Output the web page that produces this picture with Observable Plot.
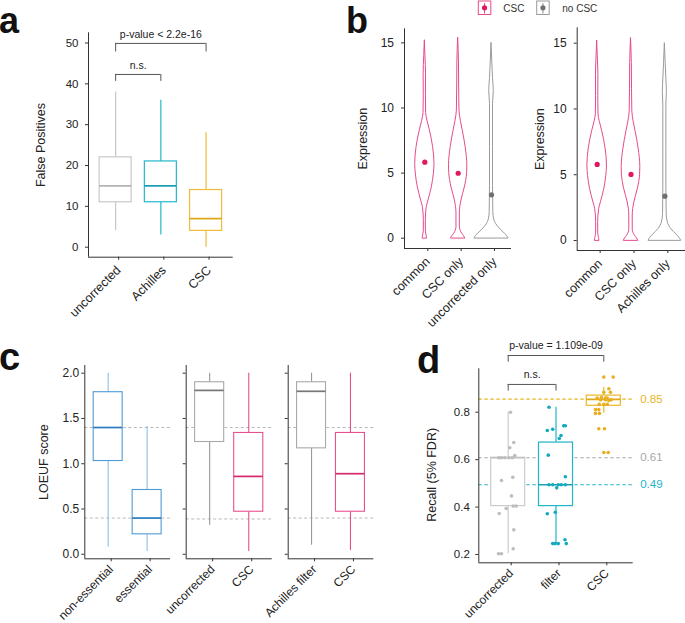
<!DOCTYPE html>
<html><head><meta charset="utf-8">
<script src="https://cdn.jsdelivr.net/npm/d3@7"></script>
<script src="https://cdn.jsdelivr.net/npm/@observablehq/plot@0.6"></script>
<style>
body{margin:0;background:#fff;}
#root{position:relative;width:685px;height:623px;overflow:hidden;background:#fff;font-family:"Liberation Sans",Arial,sans-serif;}
.letter{position:absolute;font-weight:bold;line-height:1;color:#111;font-family:"Liberation Sans",Arial,sans-serif;}
</style></head><body><div id="root"></div>
<script>
// ---------------- Panel a data ----------------
const aCats = ["uncorrected", "Achilles", "CSC"];
const aLow = [4, 3, 0];
const aQ1 = [11, 11, 4];
const aMed = [15, 15, 7];
const aQ3 = [22, 21, 14];
const aHigh = [38, 36, 28];
const aTicks = [0, 10, 20, 30, 40, 50];
const aBrFrom = [1, 1];
const aBrTo = [3, 2];
const aBrY = [49.9, 42.3];
const aBrFoot = [47.8, 40.6];
const aBrText = ["p-value < 2.2e-16", "n.s."];

// ---------------- Panel b data ----------------
const bLeftCats = ["common", "CSC only", "uncorrected only"];
const bRightCats = ["common", "CSC only", "Achilles only"];
const bTicks = [0, 5, 10, 15];
const vCommonY = [0, 0.2, 0.5, 0.9, 1.4, 2.4, 2.9, 3.9, 4.9, 5.7, 7.0, 8.3, 9.0, 9.6, 11.0, 12.6, 14.0, 15.2];
const vCommonW = [2.2, 1.8, 1.1, 1.0, 1.0, 2.0, 3.7, 7.0, 9.0, 9.7, 8.3, 5.0, 2.7, 1.3, 1.1, 1.2, 0.6, 0];
const vCscOnlyY = [0, 0.15, 0.35, 0.85, 1.9, 2.9, 3.9, 5.0, 5.6, 7.0, 8.3, 9.0, 9.8, 11.5, 13.5, 15.4];
const vCscOnlyW = [7.0, 6.0, 4.0, 1.7, 1.7, 3.3, 6.7, 9.0, 9.2, 7.5, 4.5, 2.7, 1.3, 1.0, 0.8, 0];
const vUncOnlyY = [0, 0.2, 0.45, 0.85, 1.35, 2.0, 4.0, 7.0, 10.3, 11.3, 12.3, 13.5, 15.0];
const vUncOnlyW = [17, 15.5, 12, 7, 3, 1.8, 1.5, 1.5, 1.5, 2.3, 1.5, 0.8, 0];
const vAchOnlyY = [0, 0.2, 0.45, 0.85, 1.35, 2.0, 4.0, 7.0, 10.3, 11.3, 12.3, 13.5, 15.0];
const vAchOnlyW = [16, 14.5, 11.5, 6.5, 3, 1.8, 1.5, 1.5, 1.5, 2.0, 1.5, 0.8, 0];
const bLeftMed = [5.84, 4.99, 3.33];
const bRightMed = [5.78, 5.02, 3.37];
const bGroup = ["CSC", "CSC", "no CSC"];

// ---------------- Panel c data ----------------
const c1Cats = ["non-essential", "essential"];
const c1Low = [0.08, 0.03]; const c1Q1 = [1.03, 0.22]; const c1Med = [1.40, 0.40]; const c1Q3 = [1.79, 0.71]; const c1High = [2.0, 1.41];
const c2Cats = ["uncorrected", "CSC"];
const c2Low = [0.32, 0.03]; const c2Q1 = [1.24, 0.47]; const c2Med = [1.81, 0.86]; const c2Q3 = [1.90, 1.34]; const c2High = [2.0, 2.0];
const c3Cats = ["Achilles filter", "CSC"];
const c3Low = [0.10, 0.04]; const c3Q1 = [1.17, 0.47]; const c3Med = [1.80, 0.89]; const c3Q3 = [1.90, 1.34]; const c3High = [2.0, 2.0];
const c1Ref = [1.40, 0.40];
const c2Ref = [1.40, 0.39];
const c3Ref = [1.40, 0.40];
const cTicks = [0, 0.5, 1.0, 1.5, 2.0];

// ---------------- Panel d data ----------------
const dCats = ["uncorrected", "filter", "CSC"];
const dLow = [0.203, 0.246, 0.796];
const dQ1 = [0.404, 0.404, 0.827];
const dMed = [0.608, 0.494, 0.854];
const dQ3 = [0.608, 0.672, 0.870];
const dHigh = [0.80, 0.821, 0.905];
const dUncY = [0.80,0.672,0.650,0.617,0.608,0.608,0.608,0.608,0.608,0.512,0.526,0.447,0.404,0.404,0.394,0.373,0.304,0.224,0.203,0.203];
const dUncJ = [0.048,0.117,0.033,0.138,-0.197,-0.14,-0.071,0.013,0.084,-0.14,0.096,0.069,0.105,0.167,-0.042,-0.188,0.117,0.105,-0.203,-0.14];
const dFilY = [0.821,0.723,0.728,0.743,0.743,0.702,0.689,0.619,0.528,0.494,0.494,0.494,0.494,0.494,0.481,0.372,0.378,0.246,0.246,0.246,0.262,0.246];
const dFilJ = [-0.146,-0.182,-0.069,0.161,0.195,0.105,0.069,-0.161,0.195,-0.146,-0.069,0.048,0.111,0.195,0.015,-0.182,-0.015,-0.069,-0.015,0.048,0.188,0.215];
const dCscY = [0.948,0.948,0.899,0.884,0.884,0.860,0.862,0.860,0.860,0.852,0.852,0.852,0.849,0.833,0.833,0.833,0.811,0.811,0.795,0.795,0.73,0.73,0.63,0.63];
const dCscJ = [0,0.197,0.105,0,0.14,-0.138,-0.048,0.036,0.071,0.155,-0.069,0.036,0.105,-0.096,0,0.071,-0.174,-0.105,-0.174,-0.09,-0.105,0.015,0,0.092];
const dRef = [0.855, 0.608, 0.494];
const dRefText = ["0.85", "0.61", "0.49"];
const dTicks = [0.2, 0.4, 0.6, 0.8];
const dBrFrom = [1, 1];
const dBrTo = [3, 2];
const dBrY = [1.039, 0.917];
const dBrFoot = [1.011, 0.889];
const dBrText = ["p-value = 1.109e-09", "n.s."];

// ---------------- styles ----------------
const FONT = '"Liberation Sans", Arial, sans-serif';
const AXIS = "#333";
const PINK = "#e64a8c", PINK_DOT = "#e0195e", GRAYV = "#9a9a9a", GRAY_DOT = "#707070";
const aBox = ["#c8c8c8", "#22b8cc", "#ecbc3a"], aMedC = ["#b3b3b3", "#1a9fb2", "#e0a91a"];
const dBox = ["#cccccc", "#22b5c8", "#eab82a"], dMedC = ["#c0c0c0", "#1aa2b4", "#e0a91a"], dPt = ["#bdbdbd", "#14aabd", "#e8b020"];
const dRefC = ["#e8b525", "#a8a8a8", "#22b5c8"];

const root = document.getElementById("root");

function place(el, left, top) {
  el.style.position = "absolute"; el.style.left = left + "px"; el.style.top = top + "px";
  root.appendChild(el);
}
function boxRows(low, q1, med, q3, high, bc, wc, mc) {
  return low.map((_, k) => ({i: k + 1, lo: low[k], q1: q1[k], med: med[k], q3: q3[k], hi: high[k], bc: bc[k], wc: wc[k], mc: mc[k]}));
}
function boxMarks(rows, half, sw = 1.1) {
  return [
    Plot.ruleX(rows, {x: "i", y1: "lo", y2: "q1", stroke: "wc", strokeWidth: sw}),
    Plot.ruleX(rows, {x: "i", y1: "q3", y2: "hi", stroke: "wc", strokeWidth: sw}),
    Plot.rect(rows, {x1: d => d.i - half, x2: d => d.i + half, y1: "q1", y2: "q3", fill: "white", stroke: "bc", strokeWidth: sw}),
    Plot.ruleY(rows, {y: "med", x1: d => d.i - half, x2: d => d.i + half, stroke: "mc", strokeWidth: 1.7})
  ];
}
function axes(xdom, ydom, labels, yticks, o) {
  return [
    Plot.axisY({ticks: yticks, tickSize: 3, tickPadding: o.yPad, fontSize: o.yFont || 11.5, tickFormat: o.yFmt, label: null, stroke: AXIS}),
    Plot.axisX({ticks: labels.map((_, k) => k + 1), tickFormat: i => labels[i - 1], tickRotate: -45, tickSize: 3, tickPadding: o.xPad || 8, dx: 3, fontSize: o.xFont || 12.5, label: null, stroke: AXIS}),
    Plot.ruleX([xdom[0]], {stroke: AXIS, strokeWidth: 1}),
    Plot.ruleY([ydom[0]], {stroke: AXIS, strokeWidth: 1})
  ];
}
function ylabel(text, dx, dy = 0) {
  return Plot.text([text], {frameAnchor: "left", textAnchor: "middle", text: d => d, rotate: -90, dx, dy, fontSize: 12.5, fill: "#222"});
}
function brackets(from, to, y, foot, texts, dyT) {
  const rows = from.map((f, k) => ({f, t: to[k], y: y[k], foot: foot[k], text: texts[k]}));
  return [
    Plot.ruleY(rows, {y: "y", x1: "f", x2: "t", stroke: "#555", strokeWidth: 1}),
    Plot.ruleX(rows, {x: "f", y1: "foot", y2: "y", stroke: "#555", strokeWidth: 1}),
    Plot.ruleX(rows, {x: "t", y1: "foot", y2: "y", stroke: "#555", strokeWidth: 1}),
    Plot.text(rows, {x: d => (d.f + d.t) / 2, y: "y", text: "text", dy: dyT, fontSize: 10.5, fill: "#222"})
  ];
}
function base(W, H, ml, mr, mt, mb, xdom, ydom) {
  return {width: W, height: H, marginLeft: ml, marginRight: mr, marginTop: mt, marginBottom: mb,
    x: {type: "linear", domain: xdom}, y: {type: "linear", domain: ydom}, color: {type: "identity"},
    style: {fontFamily: FONT, fontSize: "11px", color: "#222", background: "transparent", overflow: "visible"}};
}

// ---------------- Panel a ----------------
{
  const xd = [0.4, 3.6], yd = [-2.45, 52.5];
  const rows = boxRows(aLow, aQ1, aMed, aQ3, aHigh, aBox, aBox, aMedC);
  const p = Plot.plot({...base(240, 300, 88, 7.3, 32.3, 43.3, xd, yd),
    marks: [
      ...axes(xd, yd, aCats, aTicks, {yPad: 7}),
      ...boxMarks(rows, 0.354, 1.2),
      ...brackets(aBrFrom, aBrTo, aBrY, aBrFoot, aBrText, -9),
      ylabel("False Positives", -48)
    ]});
  place(p, 0, 0);
}

// ---------------- Panel b ----------------
function violinRows(profiles, cats) {
  const rows = [];
  profiles.forEach(([ys, ws], k) => ys.forEach((y, j) => rows.push({i: k + 1, cat: cats[k], y, w: ws[j], c: bGroup[k] === "CSC" ? PINK : GRAYV})));
  return rows;
}
function violinPlot(W, ml, mr, mt, mb, xd, yd, cats, profiles, meds, labDx) {
  const S = 1 / 33.5;
  const rows = violinRows(profiles, cats);
  const dots = meds.map((m, k) => ({i: k + 1, m, c: bGroup[k] === "CSC" ? PINK_DOT : GRAY_DOT}));
  return Plot.plot({...base(W, 300, ml, mr, mt, mb, xd, yd),
    marks: [
      ...axes(xd, yd, cats, bTicks, {yPad: 7.5, yFont: 12}),
      Plot.areaX(rows, {y: "y", x1: d => d.i - d.w * S, x2: d => d.i + d.w * S, z: "cat", fill: "none", stroke: "c", strokeWidth: 1, curve: "monotone-y"}),
      Plot.dot(dots, {x: "i", y: "m", r: 2.6, fill: "c", stroke: "none"}),
      ylabel("Expression", labDx)
    ]});
}
place(violinPlot(175, 64, 4, 28.3, 52, [0.39, 3.6], [-0.79, 16.08], bLeftCats,
  [[vCommonY, vCommonW], [vCscOnlyY, vCscOnlyW], [vUncOnlyY, vUncOnlyW]], bLeftMed, -42), 340, 0);
place(violinPlot(170, 61.7, 0, 27.3, 50, [0.41, 3.61], [-0.76, 16.17], bRightCats,
  [[vCommonY, vCommonW], [vCscOnlyY, vCscOnlyW], [vAchOnlyY, vAchOnlyW]], bRightMed, -37.7), 515, 0);

// legend
{
  const items = [{x: 478.3, c: PINK, dc: PINK_DOT, t: "CSC", tx: 503.3}, {x: 536.7, c: GRAYV, dc: GRAY_DOT, t: "no CSC", tx: 562.3}];
  const g = d3.create("svg").attr("width", 120).attr("height", 18).style("overflow", "visible");
  items.forEach(it => {
    const x0 = it.x - 476;
    g.append("rect").attr("x", x0).attr("y", 1).attr("width", 12.5).attr("height", 13.5).attr("fill", "white").attr("stroke", it.c).attr("stroke-width", 1);
    g.append("line").attr("x1", x0 + 6.25).attr("x2", x0 + 6.25).attr("y1", 3).attr("y2", 13.5).attr("stroke", it.dc).attr("stroke-width", 0.8);
    g.append("circle").attr("cx", x0 + 6.25).attr("cy", 7.8).attr("r", 2.6).attr("fill", it.dc);
    g.append("text").attr("x", it.tx - 476).attr("y", 11.5).attr("font-size", 10).attr("font-family", FONT).attr("fill", "#333").text(it.t);
  });
  place(g.node(), 476, 0);
}

// ---------------- Panel c ----------------
const cBlue = ["#4f9bd6", "#4f9bd6"], cBlueW = ["#8cc0e6", "#8cc0e6"], cBlueM = ["#2c7bbf", "#2c7bbf"];
const cMix = ["#a9a9a9", "#e8508f"], cMixW = ["#999999", "#e8508f"], cMixM = ["#777777", "#d6286c"];
function cFacet(W, ml, mr, cats, low, q1, med, q3, high, ref, bc, wc, mc, showLabels) {
  const xd = [0.4, 2.6], yd = [-0.05, 2.085];
  const rows = boxRows(low, q1, med, q3, high, bc, wc, mc);
  return Plot.plot({...base(W, 313, ml, mr, 55, 64.7, xd, yd),
    marks: [
      Plot.ruleY(ref, {stroke: "#b8b8b8", strokeDasharray: "3,2.5", strokeWidth: 1}),
      ...boxMarks(rows, 0.372, 1.1),
      ...axes(xd, yd, cats, cTicks, {yPad: 2.5, yFont: 12, xFont: 12, xPad: 5.5, yFmt: showLabels ? d3.format(".1f") : () => ""}),
      ...(showLabels ? [ylabel("LOEUF score", -41)] : [])
    ]});
}
place(cFacet(175, 84.3, 5, c1Cats, c1Low, c1Q1, c1Med, c1Q3, c1High, c1Ref, cBlue, cBlueW, cBlueM, true), 0, 310);
place(cFacet(100, 10.7, 3.3, c2Cats, c2Low, c2Q1, c2Med, c2Q3, c2High, c2Ref, cMix, cMixW, cMixM, false), 175, 310);
place(cFacet(100, 10.7, 3.7, c3Cats, c3Low, c3Q1, c3Med, c3Q3, c3High, c3Ref, cMix, cMixW, cMixM, false), 277, 310);

// ---------------- Panel d ----------------
{
  const xd = [0.385, 3.615], yd = [0.165, 0.983];
  const rows = boxRows(dLow, dQ1, dMed, dQ3, dHigh, dBox, dBox, dMedC);
  const pts = [];
  [[dUncY, dUncJ], [dFilY, dFilJ], [dCscY, dCscJ]].forEach(([ys, js], k) => ys.forEach((y, j) => pts.push({x: k + 1 + js[j], y, c: dPt[k]})));
  const refs = dRef.map((v, k) => ({v, t: dRefText[k], c: dRefC[k]}));
  const p = Plot.plot({...base(295, 313, 88.3, 52.3, 58.3, 60.7, xd, yd),
    marks: [
      Plot.ruleY(refs, {y: "v", stroke: "c", strokeDasharray: "3.5,2.5", strokeWidth: 1.1}),
      Plot.text(refs, {x: xd[1], y: "v", text: "t", fill: "c", dx: 7, textAnchor: "start", fontSize: 11.5}),
      ...boxMarks(rows, 0.356, 1.2),
      Plot.dot(pts, {x: "x", y: "y", r: 1.8, fill: "c", stroke: "none"}),
      ...axes(xd, yd, dCats, dTicks, {yPad: 6, xFont: 12, xPad: 5.5, yFmt: d3.format(".1f")}),
      ...brackets(dBrFrom, dBrTo, dBrY, dBrFoot, dBrText, -10),
      ylabel("Recall (5% FDR)", -46.6, 9)
    ]});
  place(p, 390, 310);
}

// ---------------- panel letters ----------------
// [text, left, baseline, size]
[["a", -1, 33, 36], ["b", 346, 33, 36], ["c", -1, 370, 38], ["d", 417, 373.3, 38]].forEach(([t, x, base, size]) => {
  const d = document.createElement("div"); d.className = "letter"; d.textContent = t;
  d.style.fontSize = size + "px";
  d.style.left = x + "px"; d.style.top = (base - 0.8465 * size) + "px"; root.appendChild(d);
});
</script></body></html>
